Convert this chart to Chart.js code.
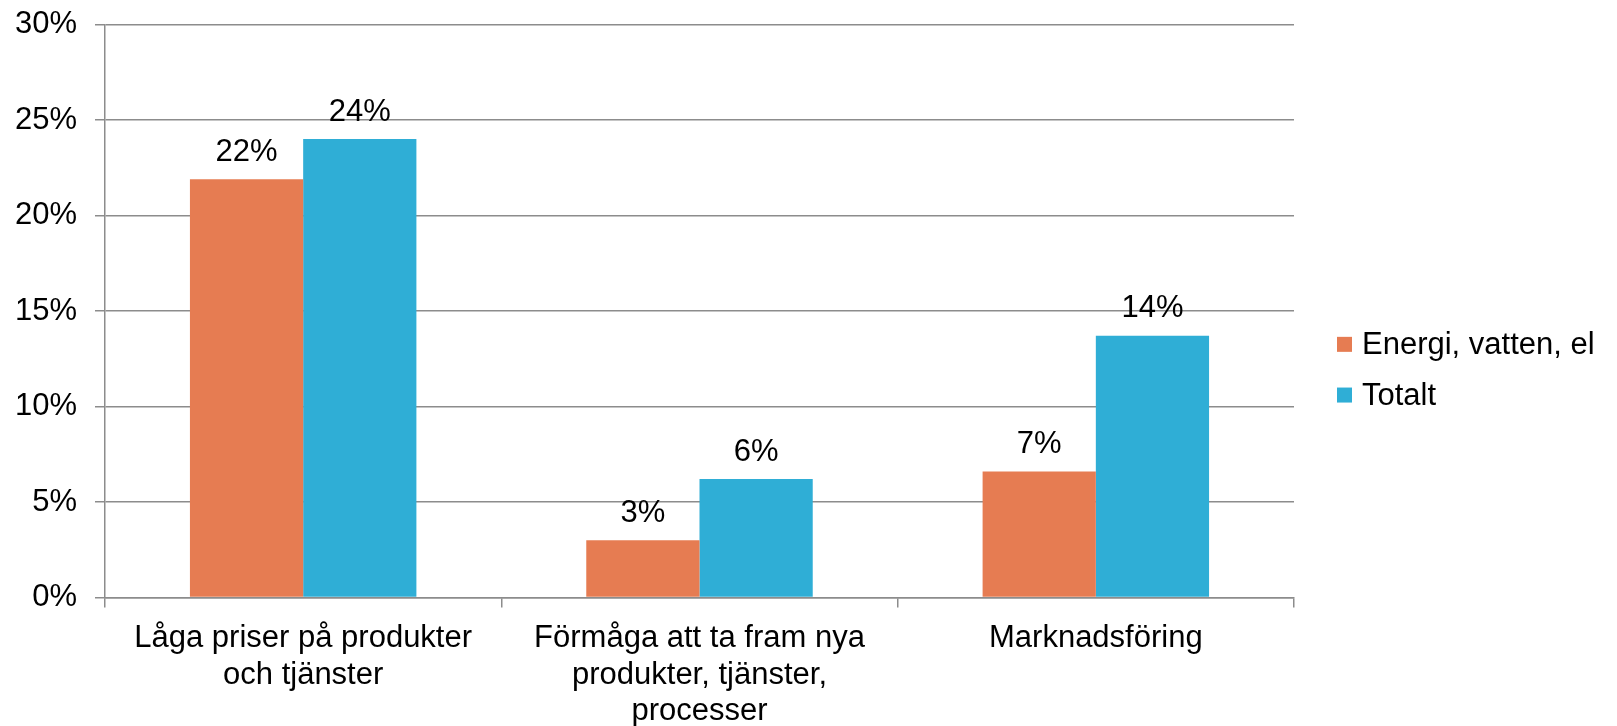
<!DOCTYPE html>
<html>
<head>
<meta charset="utf-8">
<script src="https://cdn.jsdelivr.net/npm/chart.js@4/dist/chart.umd.min.js"></script>
<style>
    html, body { margin: 0; padding: 0; background: #ffffff; }
    #wrap { width: 1617px; height: 726px; position: relative; }
</style>
</head>
<body>
<div id="wrap"><canvas id="barChart"></canvas></div>
<script>
// ===============================
// Data
// ===============================

const categories = [
    ["Låga priser på produkter", "och tjänster"],
    ["Förmåga att ta fram nya", "produkter, tjänster,", "processer"],
    "Marknadsföring"
];

const seriesNames = ["Energi, vatten, el", "Totalt"];

const energiValues = [21.9, 3.0, 6.6];

const totaltValues = [24.0, 6.2, 13.7];

const yMin = 0;
const yMax = 30;
const yStep = 5;

// ===============================
// Styles
// ===============================

const FONT = "'Liberation Sans', Arial, sans-serif";
const FONT_SIZE = 31;
const GRID = "#8c8c8c";
const ORANGE = "#e67c52";
const BLUE = "#2faed6";

// value labels above each bar
const barValueLabels = {
    id: "barValueLabels",
    afterDatasetsDraw(chart) {
        const ctx = chart.ctx;
        ctx.save();
        ctx.font = FONT_SIZE + "px " + FONT;
        ctx.fillStyle = "#000000";
        ctx.textAlign = "center";
        ctx.textBaseline = "alphabetic";
        chart.data.datasets.forEach((ds, i) => {
            chart.getDatasetMeta(i).data.forEach((bar, j) => {
                ctx.fillText(Math.round(ds.data[j]) + "%", bar.x, bar.y - 18.5);
            });
        });
        ctx.restore();
    }
};

// legend to the right of the plot (square key + series name)
const sideLegend = {
    id: "sideLegend",
    afterDraw(chart) {
        const ctx = chart.ctx;
        const area = chart.chartArea;
        const x = area.right + 43;
        const rowGap = 50.7;
        const firstY = chart.height / 2 + 6.7 - rowGap / 2;
        ctx.save();
        ctx.font = FONT_SIZE + "px " + FONT;
        ctx.textAlign = "left";
        ctx.textBaseline = "middle";
        chart.data.datasets.forEach((ds, i) => {
            const cy = firstY + i * rowGap;
            ctx.fillStyle = ds.backgroundColor;
            ctx.fillRect(x, cy - 7.5, 15, 15);
            ctx.fillStyle = "#000000";
            ctx.fillText(ds.label, x + 25, cy + 1);
        });
        ctx.restore();
    }
};

let ctx = document.getElementById("barChart").getContext("2d");

new Chart(ctx, {

    type: "bar",

    data: {
        labels: categories,
        datasets: [
            {
                label: seriesNames[0],
                data: energiValues,
                backgroundColor: ORANGE,
                borderWidth: 0
            },
            {
                label: seriesNames[1],
                data: totaltValues,
                backgroundColor: BLUE,
                borderWidth: 0
            }
        ]
    },

    options: {
        responsive: true,
        maintainAspectRatio: false,
        animation: false,
        categoryPercentage: 0.5714,
        barPercentage: 1,
        layout: {
            padding: { left: 0, right: 323, top: 0, bottom: 0 }
        },
        plugins: {
            legend: { display: false },
            tooltip: { enabled: false }
        },
        scales: {
            x: {
                grid: {
                    display: true,
                    drawOnChartArea: false,
                    drawTicks: true,
                    tickLength: 10,
                    color: GRID,
                    lineWidth: 1.5
                },
                border: { display: true, color: GRID, width: 1.5 },
                ticks: {
                    color: "#000000",
                    padding: 13,
                    maxRotation: 0,
                    font: { family: FONT, size: FONT_SIZE, lineHeight: 1.18 }
                },
                afterFit(scale) {
                    scale.height = 128.5;
                }
            },
            y: {
                min: yMin,
                max: yMax,
                grid: {
                    color: GRID,
                    lineWidth: 1.5,
                    tickLength: 10
                },
                border: { display: true, color: GRID, width: 1.5 },
                ticks: {
                    stepSize: yStep,
                    padding: 18,
                    color: "#000000",
                    font: { family: FONT, size: FONT_SIZE },
                    callback: (v) => v + "%"
                },
                afterFit(scale) {
                    scale.width = 105;
                    scale.paddingTop = 24.5;
                }
            }
        }
    },

    plugins: [barValueLabels, sideLegend]

});
</script>
</body>
</html>
